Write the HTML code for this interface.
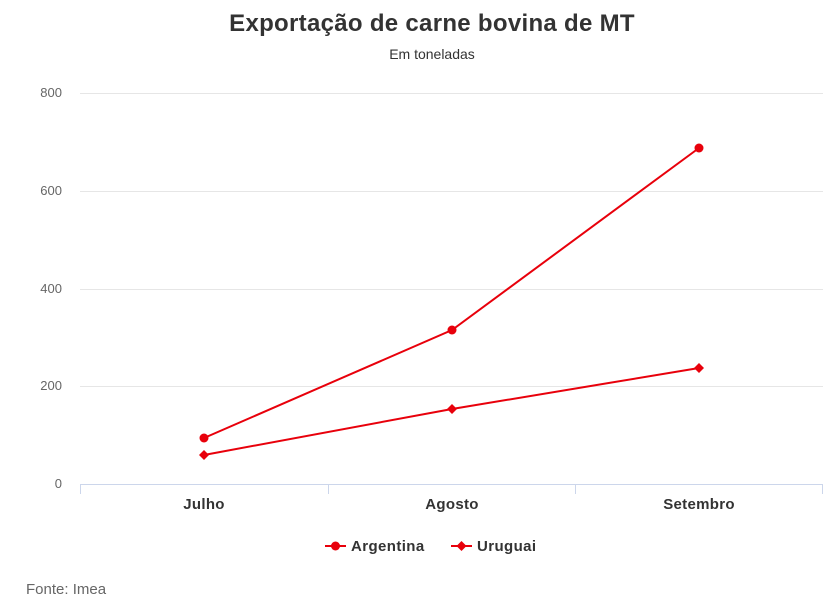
<!DOCTYPE html>
<html><head><meta charset="utf-8"><style>
html,body{margin:0;padding:0;background:#fff;}
svg{display:block;font-family:"Liberation Sans",sans-serif;}
</style></head><body>
<svg width="837" height="610" viewBox="0 0 837 610" xmlns="http://www.w3.org/2000/svg">
<text x="432" y="31" text-anchor="middle" font-size="24" font-weight="bold" fill="#333" letter-spacing="0.3">Exportação de carne bovina de MT</text>
<text x="432" y="59" text-anchor="middle" font-size="14" fill="#333">Em toneladas</text>
<g stroke="#e6e6e6" stroke-width="1">
<line x1="80" y1="93.5" x2="823" y2="93.5"/>
<line x1="80" y1="191.5" x2="823" y2="191.5"/>
<line x1="80" y1="289.5" x2="823" y2="289.5"/>
<line x1="80" y1="386.5" x2="823" y2="386.5"/>
</g>
<g stroke="#ccd6eb" stroke-width="1">
<line x1="80" y1="484.5" x2="823" y2="484.5"/>
<line x1="80.5" y1="484" x2="80.5" y2="494"/>
<line x1="328.5" y1="484" x2="328.5" y2="494"/>
<line x1="575.5" y1="484" x2="575.5" y2="494"/>
<line x1="822.5" y1="484" x2="822.5" y2="494"/>
</g>
<g font-size="13" fill="#666" text-anchor="end">
<text x="62" y="97">800</text><text x="62" y="195">600</text><text x="62" y="293">400</text><text x="62" y="390">200</text><text x="62" y="488">0</text>
</g>
<g font-size="15" font-weight="bold" fill="#333" text-anchor="middle" letter-spacing="0.3">
<text x="204" y="509">Julho</text><text x="452" y="509">Agosto</text><text x="699" y="509">Setembro</text>
</g>
<polyline points="204,438 452,330 699,148" fill="none" stroke="#e8000b" stroke-width="2"/>
<polyline points="204,455 452,409 699,368" fill="none" stroke="#e8000b" stroke-width="2"/>
<g fill="#e8000b">
<circle cx="204" cy="438" r="4.5"/><circle cx="452" cy="330" r="4.5"/><circle cx="699" cy="148" r="4.5"/>
<path d="M204 450 l5 5 l-5 5 l-5 -5z"/><path d="M452 404 l5 5 l-5 5 l-5 -5z"/><path d="M699 363 l5 5 l-5 5 l-5 -5z"/>
</g>
<line x1="325" y1="546" x2="346" y2="546" stroke="#e8000b" stroke-width="2"/>
<circle cx="335.5" cy="546" r="4.5" fill="#e8000b"/>
<text x="351" y="551" font-size="15" font-weight="bold" fill="#333" letter-spacing="0.4">Argentina</text>
<line x1="451" y1="546" x2="472" y2="546" stroke="#e8000b" stroke-width="2"/>
<path d="M461.5 541 l5 5 l-5 5 l-5 -5z" fill="#e8000b"/>
<text x="477" y="551" font-size="15" font-weight="bold" fill="#333" letter-spacing="0.4">Uruguai</text>
<text x="26" y="594" font-size="15" fill="#666">Fonte: Imea</text>
</svg>
</body></html>
